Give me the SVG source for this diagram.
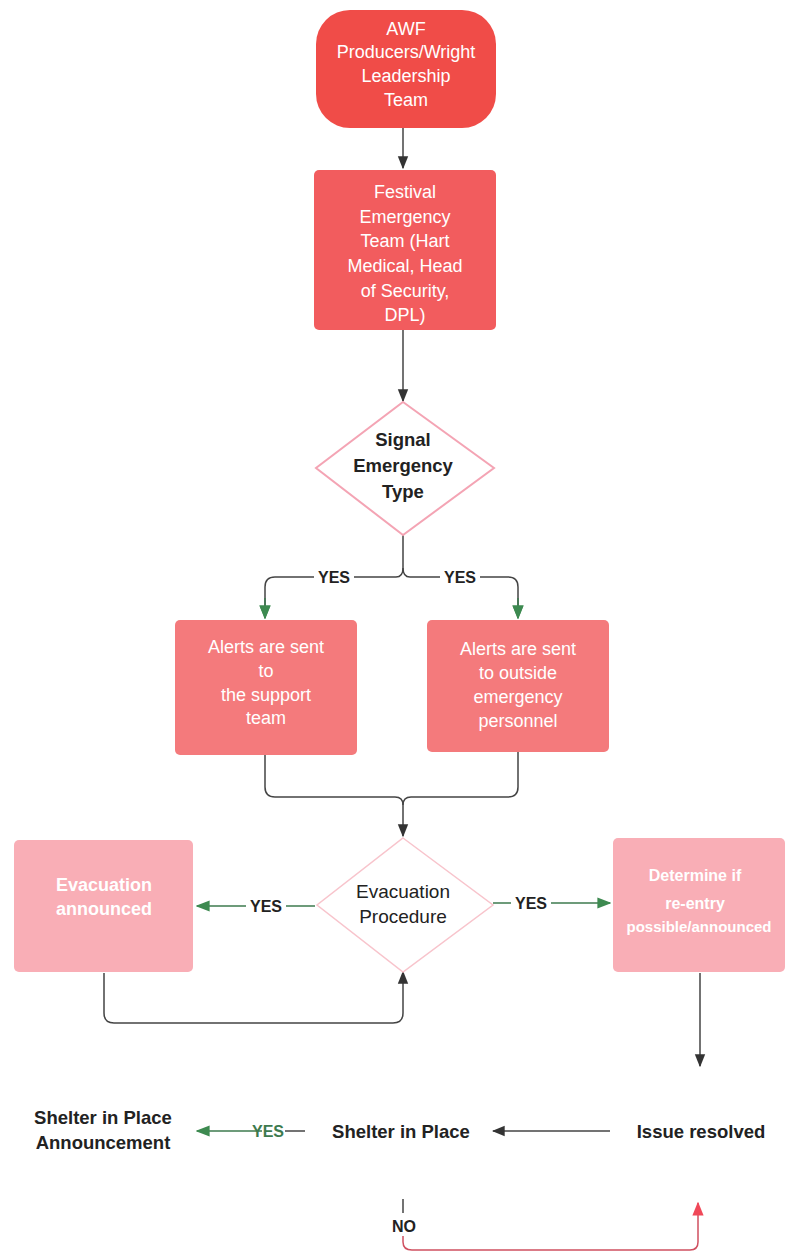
<svg xmlns="http://www.w3.org/2000/svg" width="785" height="1257" viewBox="0 0 785 1257">
<defs>
<style>
.t{font-family:"Liberation Sans",Arial,sans-serif;font-size:18px;fill:#fff;text-anchor:middle}
.b{font-family:"Liberation Sans",Arial,sans-serif;font-size:18.5px;font-weight:bold;fill:#222;text-anchor:middle}
.r{font-family:"Liberation Sans",Arial,sans-serif;font-size:19px;fill:#222;text-anchor:middle}
.lbl{font-family:"Liberation Sans",Arial,sans-serif;font-size:16px;font-weight:bold;fill:#222;text-anchor:middle}
.ln{fill:none;stroke:#444;stroke-width:1.5}
.gl{fill:none;stroke:#3d7a4e;stroke-width:1.5}
</style>
<marker id="ak" viewBox="0 0 10 10" refX="9" refY="5" markerWidth="13" markerHeight="13" orient="auto" markerUnits="userSpaceOnUse"><path d="M0,1 L10,5 L0,9 z" fill="#333"/></marker>
<marker id="ag" viewBox="0 0 10 10" refX="9" refY="5" markerWidth="14" markerHeight="14" orient="auto" markerUnits="userSpaceOnUse"><path d="M0,1 L10,5 L0,9 z" fill="#3d8a50"/></marker>
<marker id="ar" viewBox="0 0 10 10" refX="9" refY="5" markerWidth="14" markerHeight="14" orient="auto" markerUnits="userSpaceOnUse"><path d="M0,1 L10,5 L0,9 z" fill="#f04858"/></marker>
</defs>
<rect width="785" height="1257" fill="#fff"/>

<g id="connectors">
<path class="ln" d="M403,128 V168" marker-end="url(#ak)"/>
<path class="ln" d="M403,330 V401" marker-end="url(#ak)"/>
<path class="ln" d="M403,535 V568 Q403,577 396,577 H275 Q265,577 265,587 V618" marker-end="url(#ag)"/>
<path class="ln" d="M403,568 Q403,577 410,577 H508 Q518,577 518,587 V618" marker-end="url(#ag)"/>
<path class="gl" d="M265,598 V618" marker-end="url(#ag)"/>
<path class="gl" d="M518,598 V618" marker-end="url(#ag)"/>
<rect x="314" y="569" width="40" height="16" fill="#fff"/>
<text class="lbl" x="334" y="583">YES</text>
<rect x="440" y="569" width="40" height="16" fill="#fff"/>
<text class="lbl" x="460" y="583">YES</text>
<path class="ln" d="M265,755 V787 Q265,797 275,797 H395 Q403,797 403,805 V836" marker-end="url(#ak)"/>
<path class="ln" d="M518,752 V787 Q518,797 508,797 H411 Q403,797 403,805"/>
<path class="gl" d="M315,906 H197" marker-end="url(#ag)"/>
<rect x="246" y="898" width="40" height="16" fill="#fff"/>
<text class="lbl" x="266" y="912">YES</text>
<path class="gl" d="M493,903 H610" marker-end="url(#ag)"/>
<rect x="511" y="895" width="40" height="16" fill="#fff"/>
<text class="lbl" x="531" y="909">YES</text>
<path class="ln" d="M104,973 V1013 Q104,1023 114,1023 H393 Q403,1023 403,1013 V972" marker-end="url(#ak)"/>
<path class="ln" d="M700,973 V1066" marker-end="url(#ak)"/>
<path class="gl" d="M262,1131 H197" marker-end="url(#ag)"/>
<path class="ln" d="M285,1131 H305"/>
<text class="lbl" x="268" y="1137" style="fill:#3d7a4e">YES</text>
<path class="ln" d="M610,1131 H493" marker-end="url(#ak)"/>
<path class="ln" d="M403,1199 V1213"/>
<text class="lbl" x="404" y="1232">NO</text>
<path class="ln" d="M403,1236 V1242 Q403,1250 412,1250 H690 Q698,1250 698,1242 V1203" style="stroke:#d05060" marker-end="url(#ar)"/>
</g>

<g id="n1">
<rect x="316" y="10" width="180" height="118" rx="34" fill="#f04c48"/>
<text class="t" x="406" y="35">AWF</text>
<text class="t" x="406" y="58">Producers/Wright</text>
<text class="t" x="406" y="82">Leadership</text>
<text class="t" x="406" y="106">Team</text>
</g>

<g id="n2">
<rect x="314" y="170" width="182" height="160" rx="5" fill="#f25c5e"/>
<text class="t" x="405" y="198">Festival</text>
<text class="t" x="405" y="223">Emergency</text>
<text class="t" x="405" y="247">Team (Hart</text>
<text class="t" x="405" y="272">Medical, Head</text>
<text class="t" x="405" y="297">of Security,</text>
<text class="t" x="405" y="321">DPL)</text>
</g>

<g id="n3">
<path d="M403,402 L494,468 L403,535 L316,468 Z" fill="#fff" stroke="#f4a4b4" stroke-width="2"/>
<text class="b" x="403" y="446">Signal</text>
<text class="b" x="403" y="472">Emergency</text>
<text class="b" x="403" y="498">Type</text>
</g>

<g id="n4">
<rect x="175" y="620" width="182" height="135" rx="5" fill="#f47a7c"/>
<text class="t" x="266" y="653">Alerts are sent</text>
<text class="t" x="266" y="677">to</text>
<text class="t" x="266" y="701">the support</text>
<text class="t" x="266" y="724">team</text>
</g>

<g id="n5">
<rect x="427" y="620" width="182" height="132" rx="5" fill="#f47a7c"/>
<text class="t" x="518" y="655">Alerts are sent</text>
<text class="t" x="518" y="679">to outside</text>
<text class="t" x="518" y="703">emergency</text>
<text class="t" x="518" y="727">personnel</text>
</g>

<g id="n6">
<path d="M403,838 L493,905 L403,972 L317,905 Z" fill="#fff" stroke="#f8c4cc" stroke-width="1.5"/>
<text class="r" x="403" y="898">Evacuation</text>
<text class="r" x="403" y="923">Procedure</text>
</g>

<g id="n7">
<rect x="14" y="840" width="179" height="132" rx="5" fill="#f9aeb6"/>
<text class="t" x="104" y="891" style="font-weight:bold">Evacuation</text>
<text class="t" x="104" y="915" style="font-weight:bold">announced</text>
</g>

<g id="n8">
<rect x="613" y="838" width="172" height="134" rx="5" fill="#f9aeb6"/>
<text class="t" x="695" y="881" style="font-weight:bold;font-size:16px">Determine if</text>
<text class="t" x="695" y="909" style="font-weight:bold;font-size:16px">re-entry</text>
<text class="t" x="699" y="932" style="font-weight:bold;font-size:15px">possible/announced</text>
</g>

<g id="n9">
<text class="b" x="103" y="1124">Shelter in Place</text>
<text class="b" x="103" y="1149">Announcement</text>
</g>

<g id="n10">
<text class="b" x="401" y="1138">Shelter in Place</text>
</g>

<g id="n11">
<text class="b" x="701" y="1138">Issue resolved</text>
</g>
</svg>
